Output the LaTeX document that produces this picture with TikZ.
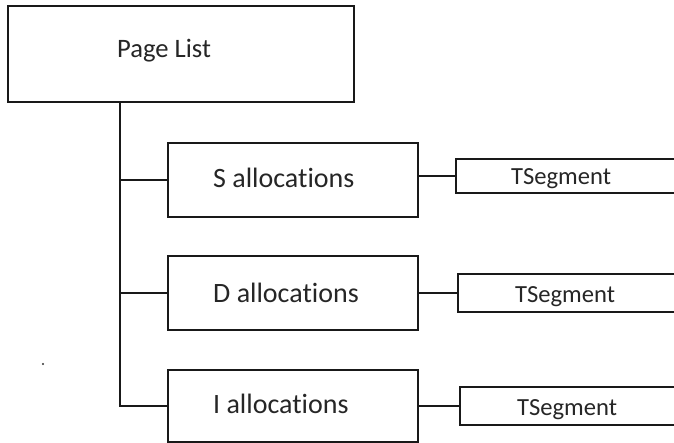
\documentclass[tikz,border=0pt]{standalone}
\usepackage{fontspec}
\setmainfont{Carlito}[RawFeature={-liga,-clig,-dlig}]
\begin{document}
\begin{tikzpicture}[x=1pt,y=-1pt,
  box/.style={draw=black!90, line width=2pt, inner sep=0pt, fill=white},
  conn/.style={draw=black!90, line width=2pt},
  lbl/.style={inner sep=0pt, anchor=base west, text=black!85}]
\clip (0,0) rectangle (674,443);
\fill[white] (0,0) rectangle (674,443);
% boxes
\node[box, minimum width=346pt, minimum height=96pt] (page) at (181,54) {};
\node[box, minimum width=250pt, minimum height=74pt] (S) at (293,180) {};
\node[box, minimum width=250pt, minimum height=74pt] (D) at (293,293) {};
\node[box, minimum width=250pt, minimum height=72pt] (I) at (293,406) {};
\node[box, minimum width=240pt, minimum height=34pt] (T1) at (576,176) {};
\node[box, minimum width=240pt, minimum height=38pt] (T2) at (578,293) {};
\node[box, minimum width=240pt, minimum height=38pt] (T3) at (580,406) {};
% texts
\node[lbl, font=\fontsize{26.6}{30}\selectfont] (tpage) at (117,58) {Page List};
\node[lbl, font=\fontsize{28}{32}\selectfont] (tS) at (213,188) {S allocations};
\node[lbl, font=\fontsize{28}{32}\selectfont] (tD) at (213,302) {D allocations};
\node[lbl, font=\fontsize{28}{32}\selectfont] (tI) at (213,413) {I allocations};
\node[lbl, font=\fontsize{24.6}{28}\selectfont] (tT1) at (511,185) {TSegment};
\node[lbl, font=\fontsize{24.6}{28}\selectfont] (tT2) at (515,302) {TSegment};
\node[lbl, font=\fontsize{24.6}{28}\selectfont] (tT3) at (517,415) {TSegment};
% stray dot
\node[circle, fill=black!80, inner sep=0pt, minimum size=2.2pt] (dot) at (43,364) {};
% trunk and branches
\coordinate (top) at (120,102);
\draw[conn] (top) |- (I.west);
\draw[conn] (top |- S.west) -- (S.west);
\draw[conn] (top |- D.west) -- (D.west);
\draw[conn] (T1.west -| S.east) -- (T1.west);
\draw[conn] (T2.west -| D.east) -- (T2.west);
\draw[conn] (T3.west -| I.east) -- (T3.west);
\end{tikzpicture}
\end{document}
